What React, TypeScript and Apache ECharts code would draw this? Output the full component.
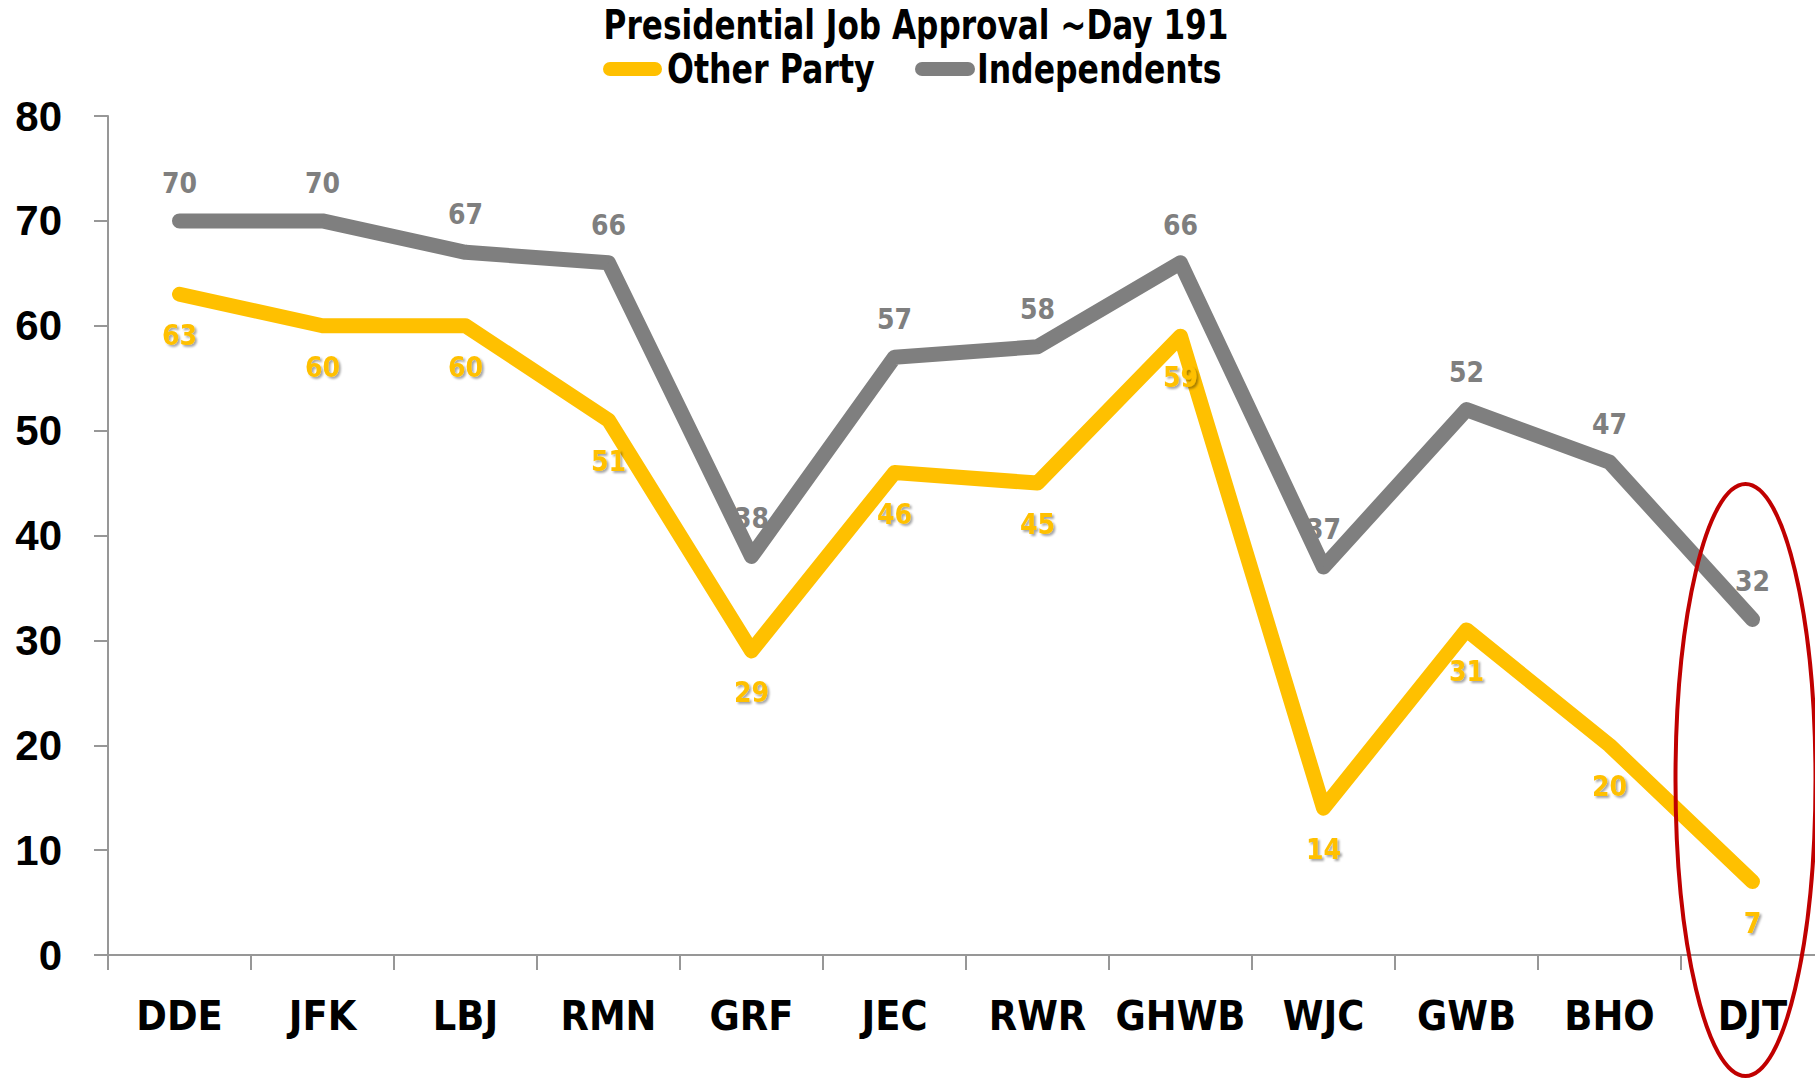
import React, { useEffect, useRef } from "react";
import * as echarts from "echarts";

const titleText = "Presidential Job Approval ~Day 191";
const legendNames = ["Other Party", "Independents"];
const categories = ["DDE", "JFK", "LBJ", "RMN", "GRF", "JEC", "RWR", "GHWB", "WJC", "GWB", "BHO", "DJT"];
const otherParty = [63, 60, 60, 51, 29, 46, 45, 59, 14, 31, 20, 7];
const independents = [70, 70, 67, 66, 38, 57, 58, 66, 37, 52, 47, 32];
const yTicks = { min: 0, max: 80, interval: 10 };

const YELLOW = "#FFC000";
const GRAY = "#7F7F7F";
const AXIS = "#979797";
const COND = "'DejaVu Sans Condensed', 'Liberation Sans', sans-serif";
const SANS = "'Liberation Sans', Arial, sans-serif";

export default function App() {
  const ref = useRef<HTMLDivElement>(null);
  useEffect(() => {
    if (!ref.current) return;
    const chart = echarts.init(ref.current, undefined, { renderer: "svg" });
    chart.setOption({
      animation: false,
      backgroundColor: "#ffffff",
      grid: { left: 108, right: -9, top: 116, bottom: 124, containLabel: false, outerBoundsMode: "none" },
      xAxis: {
        type: "category",
        data: categories,
        boundaryGap: true,
        axisLine: { show: true, lineStyle: { color: AXIS, width: 2 } },
        axisTick: { show: true, length: 15, lineStyle: { color: AXIS, width: 2 } },
        axisLabel: {
          margin: 40,
          interval: 0,
          fontFamily: COND,
          fontWeight: "bold",
          fontSize: 41,
          lineHeight: 41,
          color: "#000",
        },
        splitLine: { show: false },
      },
      yAxis: {
        type: "value",
        min: yTicks.min,
        max: yTicks.max,
        interval: yTicks.interval,
        axisLine: { show: true, lineStyle: { color: AXIS, width: 2 } },
        axisTick: { show: true, length: 14, lineStyle: { color: AXIS, width: 2 } },
        axisLabel: { margin: 46, fontFamily: SANS, fontWeight: "bold", fontSize: 42, color: "#000" },
        splitLine: { show: false },
      },
      series: [
        {
          name: "Independents labels",
          type: "line",
          data: independents,
          z: 1,
          symbol: "circle",
          symbolSize: 1,
          itemStyle: { color: GRAY },
          lineStyle: { width: 0, opacity: 0 },
          label: {
            show: true,
            position: "top",
            distance: 23,
            fontFamily: COND,
            fontWeight: "bold",
            fontSize: 28,
            lineHeight: 28,
            color: GRAY,
          },
          silent: true,
        },
        {
          name: legendNames[0],
          type: "line",
          data: otherParty,
          z: 2,
          symbol: "circle",
          symbolSize: 1,
          itemStyle: { color: YELLOW },
          lineStyle: { color: YELLOW, width: 15, cap: "round", join: "round" },
          label: {
            show: true,
            position: "bottom",
            distance: 27,
            fontFamily: COND,
            fontWeight: "bold",
            fontSize: 28,
            lineHeight: 28,
            color: YELLOW,
            textShadowColor: "rgba(0,0,0,0.35)",
            textShadowOffsetX: 2,
            textShadowOffsetY: 2,
            textShadowBlur: 2,
          },
        },
        {
          name: legendNames[1],
          type: "line",
          data: independents,
          z: 3,
          symbol: "circle",
          symbolSize: 1,
          itemStyle: { color: GRAY },
          lineStyle: { color: GRAY, width: 15, cap: "round", join: "round" },
          label: { show: false },
        },
      ],
    });
    const djt = chart.convertToPixel({ xAxisIndex: 0 }, categories[categories.length - 1]) as number;
    const txt = (text: string, x: number, y: number, size: number, sx: number, align: string) => ({
      type: "text",
      x,
      y,
      scaleX: sx,
      silent: true,
      style: {
        text,
        fontFamily: COND,
        fontWeight: "bold",
        fontSize: size,
        fill: "#000",
        align,
        verticalAlign: "middle",
        textAlign: align,
        textVerticalAlign: "middle",
      },
    });
    chart.setOption({
      graphic: [
        txt(titleText, 916, 25, 40, 0.866, "center"),
        { type: "rect", silent: true, shape: { x: 603, y: 62, width: 59, height: 14, r: 7 }, style: { fill: YELLOW } },
        txt(legendNames[0], 667, 69, 40, 0.88, "left"),
        { type: "rect", silent: true, shape: { x: 915, y: 62, width: 60, height: 14, r: 7 }, style: { fill: GRAY } },
        txt(legendNames[1], 977, 69, 40, 0.875, "left"),
        {
          type: "ellipse",
          shape: { cx: djt - 7, cy: 780, rx: 70, ry: 296 },
          style: { fill: "none", stroke: "#C00000", lineWidth: 4 },
          z: 10,
          silent: true,
        },
      ],
    });
    return () => chart.dispose();
  }, []);
  return <div ref={ref} style={{ position: "fixed", left: 0, top: 0, width: 1815, height: 1079 }} />;
}
